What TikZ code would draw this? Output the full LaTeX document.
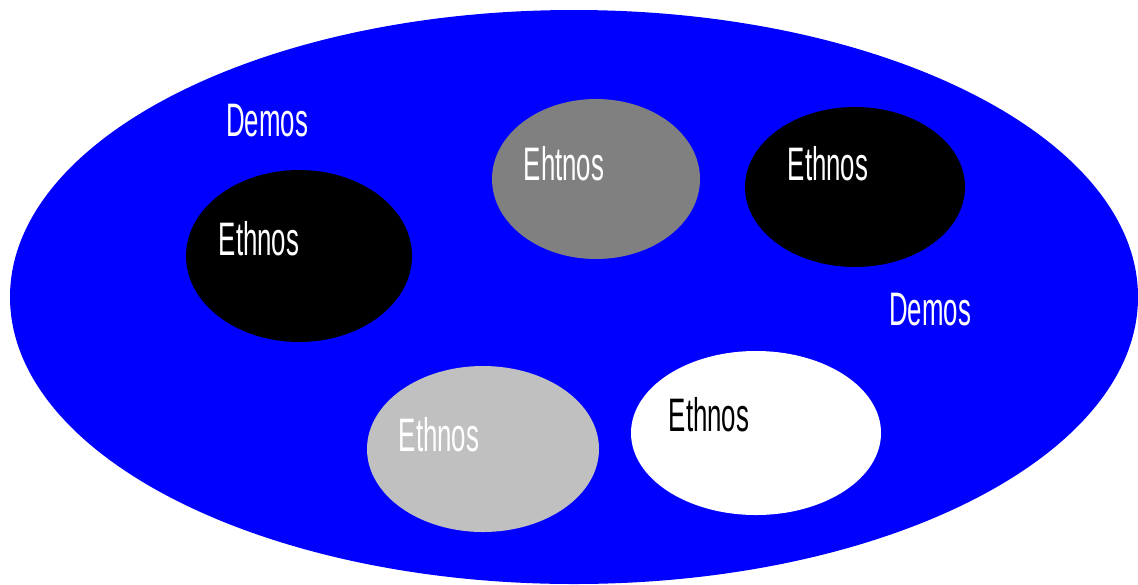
\documentclass[tikz,border=0pt]{standalone}
\usepackage{fontspec}
\usepackage{tikz}
\usetikzlibrary{positioning}
\newfontfamily\narrowfont[FakeStretch=0.55]{Liberation Sans}
\definecolor{DemosFill}{HTML}{0000FF}
\definecolor{MidGrey}{HTML}{808080}
\definecolor{PaleGrey}{HTML}{C0C0C0}
\begin{document}
\begin{tikzpicture}[x=0.5pt, y=-0.5pt,
  lbl/.style={font=\narrowfont\fontsize{23.5}{26}\selectfont, text=white, inner sep=0pt}]
\useasboundingbox (0,0) rectangle (1138,584);
% outer demos
\fill[DemosFill] (574,297) ellipse [x radius=564, y radius=287];
% ethnic groups
\fill[black] (299,256) ellipse [x radius=113, y radius=86];
\fill[MidGrey] (596,179) ellipse [x radius=104, y radius=80];
\fill[black] (855,187) ellipse [x radius=110, y radius=80];
\fill[PaleGrey] (483,449) ellipse [x radius=116, y radius=83];
\fill[white] (756,433) ellipse [x radius=125, y radius=82];
% labels
\node[lbl] (demosa) at (267,121) {Demos};
\node[lbl] (demosb) at (930,310) {Demos};
\node[lbl] (ethleft) at (259,239) {Ethnos};
\node[lbl] (ethgrey) at (564,164) {Ehtnos};
\node[lbl] (ethright) at (828,164) {Ethnos};
\node[lbl] (ethpale) at (439,435) {Ethnos};
\node[lbl, text=black] (ethwhite) at (709,415) {Ethnos};
\end{tikzpicture}
\end{document}
